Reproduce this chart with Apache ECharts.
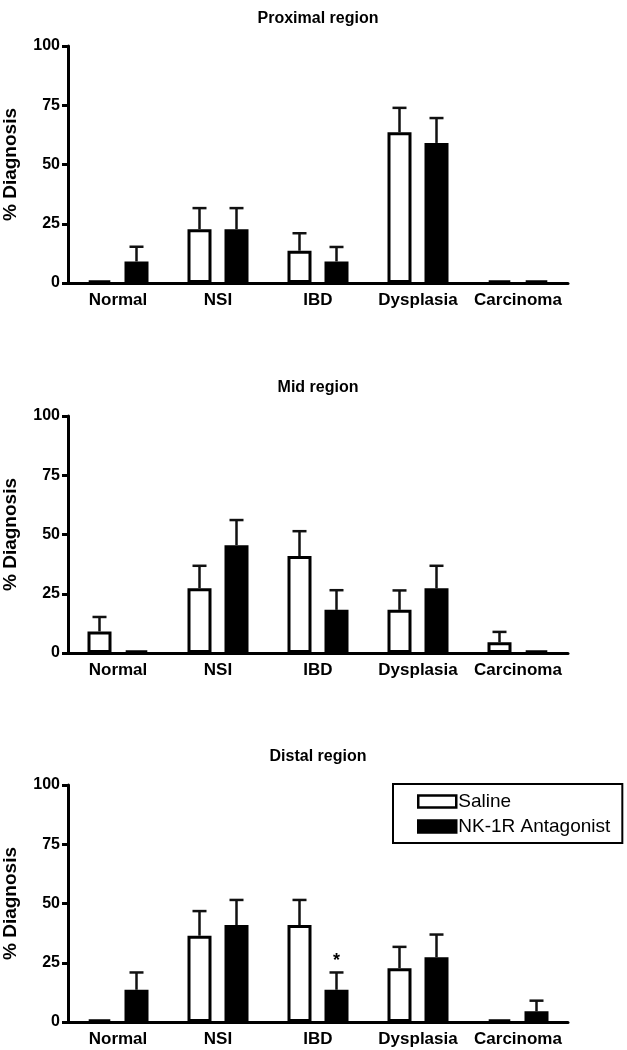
<!DOCTYPE html>
<html>
<head>
<meta charset="utf-8">
<script src="https://cdn.jsdelivr.net/npm/echarts@6/dist/echarts.min.js"></script>
<style>
  html, body { margin: 0; padding: 0; background: #fff; }
  #main { width: 627px; height: 1050px; }
</style>
</head>
<body>
<div id="main"></div>
<script>
// categories and tick labels
const categories = ['Normal', 'NSI', 'IBD', 'Dysplasia', 'Carcinoma']
const yTicks = [0, 25, 50, 75, 100]
const panelTitles = ['Proximal region', 'Mid region', 'Distal region']

// values (% diagnosis, mean and upper SEM)
const proximalSaline = [1, 22.7, 13.6, 63.6, 1]
const proximalSalineErr = [0, 8.9, 7.4, 10.3, 0]
const proximalNK = [9.1, 22.7, 9.1, 59.1, 1]
const proximalNKErr = [6.2, 8.9, 6.1, 10.5, 0]

const midSaline = [9.1, 27.3, 40.9, 18.2, 4.5]
const midSalineErr = [6.1, 9.5, 10.5, 8.2, 4.4]
const midNK = [1, 45.5, 18.2, 27.3, 1]
const midNKErr = [0, 10.6, 8.3, 9.5, 0]

const distalSaline = [1, 36.4, 40.9, 22.7, 1]
const distalSalineErr = [0, 10.4, 10.6, 9, 0]
const distalNK = [13.6, 40.9, 13.6, 27.3, 4.5]
const distalNKErr = [7.3, 10.6, 7.3, 9.6, 4.5]
const distalNKSig = ['', '', '*', '', '']

const panels = [
  { saline: proximalSaline, salineErr: proximalSalineErr, nk: proximalNK, nkErr: proximalNKErr, sig: null },
  { saline: midSaline, salineErr: midSalineErr, nk: midNK, nkErr: midNKErr, sig: null },
  { saline: distalSaline, salineErr: distalSalineErr, nk: distalNK, nkErr: distalNKErr, sig: distalNKSig }
]

const FONT = '"Liberation Sans", Arial, sans-serif'
const BAR_W = 24
const BAR_GAP = 13
const OFFSET = (BAR_W + BAR_GAP) / 2
const gridTops = [46, 416, 785]
const titleTops = [6, 375, 744]

// upper error bar (whisker + cap), optional significance mark
function errorBar (shift, marks) {
  return function (params, api) {
    const idx = api.value(0)
    const mean = api.value(1)
    const err = api.value(2)
    const children = []
    const base = api.coord([idx, mean])
    const top = api.coord([idx, mean + err])
    const x = base[0] + shift
    if (err > 0) {
      children.push({
        type: 'line',
        shape: { x1: x, y1: base[1], x2: x, y2: top[1] },
        style: { stroke: '#111', lineWidth: 2.5 }
      })
      children.push({
        type: 'line',
        shape: { x1: x - 7, y1: top[1], x2: x + 7, y2: top[1] },
        style: { stroke: '#111', lineWidth: 2.5 }
      })
    }
    if (marks && marks[idx]) {
      children.push({
        type: 'text',
        x: x,
        y: top[1] - 2,
        style: {
          text: marks[idx],
          fill: '#000',
          font: 'bold 18px ' + FONT,
          align: 'center',
          verticalAlign: 'bottom'
        }
      })
    }
    return { type: 'group', children: children }
  }
}

const grid = []
const xAxis = []
const yAxis = []
const series = []
const title = []

panels.forEach((p, i) => {
  title.push({
    text: panelTitles[i],
    left: 313,
    top: titleTops[i],
    textAlign: 'center',
    textStyle: { fontFamily: FONT, fontWeight: 'bold', fontSize: 16, color: '#000' }
  })
  grid.push({ left: 68, right: 59, top: gridTops[i], height: 237, containLabel: false, outerBoundsMode: 'none' })
  xAxis.push({
    type: 'category',
    gridIndex: i,
    data: categories,
    axisLine: { lineStyle: { color: '#000', width: 3 } },
    axisTick: { alignWithLabel: true, length: 6, lineStyle: { color: '#000', width: 3 } },
    axisLabel: { interval: 0, color: '#000', fontFamily: FONT, fontWeight: 'bold', fontSize: 17, margin: 9 }
  })
  yAxis.push({
    type: 'value',
    gridIndex: i,
    min: yTicks[0],
    max: yTicks[yTicks.length - 1],
    interval: 25,
    name: '% Diagnosis',
    nameLocation: 'middle',
    nameGap: 48,
    nameTextStyle: { color: '#000', fontFamily: FONT, fontWeight: 'bold', fontSize: 19 },
    splitLine: { show: false },
    axisLine: { show: true, lineStyle: { color: '#000', width: 3 } },
    axisTick: { show: true, length: 6, lineStyle: { color: '#000', width: 3 } },
    axisLabel: { color: '#000', fontFamily: FONT, fontWeight: 'bold', fontSize: 16, margin: 8 }
  })
  series.push({
    name: 'Saline',
    type: 'bar',
    xAxisIndex: i,
    yAxisIndex: i,
    data: p.saline,
    barWidth: BAR_W,
    barGap: (BAR_GAP / BAR_W * 100) + '%',
    itemStyle: { color: '#fff', borderColor: '#000', borderWidth: 3 },
    emphasis: { disabled: true }
  })
  series.push({
    name: 'NK-1R Antagonist',
    type: 'bar',
    xAxisIndex: i,
    yAxisIndex: i,
    data: p.nk,
    barWidth: BAR_W,
    barGap: (BAR_GAP / BAR_W * 100) + '%',
    itemStyle: { color: '#000', borderColor: '#000', borderWidth: 3 },
    emphasis: { disabled: true }
  })
  series.push({
    type: 'custom',
    xAxisIndex: i,
    yAxisIndex: i,
    renderItem: errorBar(-OFFSET, null),
    data: p.saline.map((v, k) => [k, v, p.salineErr[k]]),
    z: 5
  })
  series.push({
    type: 'custom',
    xAxisIndex: i,
    yAxisIndex: i,
    renderItem: errorBar(OFFSET, p.sig),
    data: p.nk.map((v, k) => [k, v, p.nkErr[k]]),
    z: 5
  })
})

const myChart = echarts.init(document.getElementById('main'))
myChart.setOption({
  animation: false,
  backgroundColor: '#fff',
  title: title,
  legend: {
    data: ['Saline', 'NK-1R Antagonist'],
    orient: 'vertical',
    left: 393,
    top: 784,
    padding: [8, 12, 7, 24],
    itemGap: 6,
    itemWidth: 38,
    itemHeight: 12,
    icon: 'rect',
    borderColor: '#000',
    borderWidth: 2,
    selectedMode: false,
    itemStyle: { borderWidth: 2.5 },
    textStyle: { fontFamily: FONT, fontSize: 19, color: '#000', padding: [0, 0, 0, -3] }
  },
  grid: grid,
  xAxis: xAxis,
  yAxis: yAxis,
  series: series
})
</script>
</body>
</html>
